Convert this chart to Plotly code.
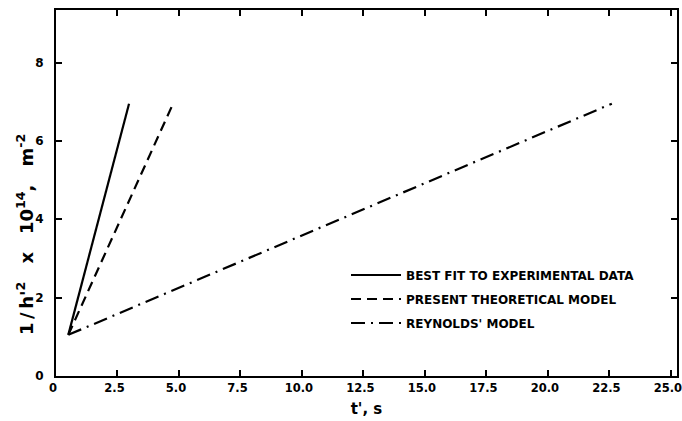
import plotly.graph_objects as go

# Data
series_names = ["BEST FIT TO EXPERIMENTAL DATA", "PRESENT THEORETICAL MODEL", "REYNOLDS' MODEL"]
t_best = [0.5, 2.97]
y_best = [1.05, 6.95]
t_theory = [0.5, 4.76]
y_theory = [1.05, 6.95]
t_reynolds = [0.5, 22.6]
y_reynolds = [1.05, 6.95]

x_tick_vals = [0, 2.5, 5.0, 7.5, 10.0, 12.5, 15.0, 17.5, 20.0, 22.5, 25.0]
x_tick_text = ["0", "2.5", "5.0", "7.5", "10.0", "12.5", "15.0", "17.5", "20.0", "22.5", "25.0"]
y_tick_vals = [0, 2, 4, 6, 8]
y_tick_text = ["0", "2", "4", "6", "8"]
y_title = "1\u2009/\u2009h'<sup>2</sup>\u2003x\u200310<sup>14</sup>,\u2003m<sup>-2</sup>"
x_title = "t', s"

FONT = "DejaVu Sans"

fig = go.Figure()
fig.add_trace(go.Scatter(x=t_best, y=y_best, mode="lines", name=series_names[0], legendgroup="a",
                         line=dict(color="black", width=2.2, dash="solid")))
fig.add_trace(go.Scatter(x=t_theory, y=y_theory, mode="lines", name=series_names[1], legendgroup="b",
                         line=dict(color="black", width=2.2, dash="10px,6px")))
fig.add_trace(go.Scatter(x=t_reynolds, y=y_reynolds, mode="lines", name=series_names[2], legendgroup="c",
                         line=dict(color="black", width=2.2, dash="14px,6px,2px,6px")))

fig.update_layout(
    width=682, height=421,
    paper_bgcolor="white", plot_bgcolor="white",
    margin=dict(l=56, r=5, t=10, b=45),
    font=dict(family=FONT, color="black", size=11),
    showlegend=True,
    legend=dict(x=(346 - 56) / 621, y=(376 - 299) / 366, xanchor="left", yanchor="middle",
                bgcolor="rgba(0,0,0,0)", borderwidth=0,
                font=dict(family=FONT, size=12, color="black", weight="bold"),
                tracegroupgap=5, itemwidth=50),
    annotations=[dict(text=y_title, xref="paper", yref="paper",
                      x=(25 - 56) / 621, y=(376 - 235) / 366, xanchor="center", yanchor="middle",
                      textangle=-90, showarrow=False,
                      font=dict(family=FONT, size=18, color="black", weight="bold"))],
)
fig.update_xaxes(
    range=[0, 25.25], tickvals=x_tick_vals, ticktext=x_tick_text,
    showline=True, linecolor="black", linewidth=2, mirror="ticks",
    ticks="inside", ticklen=6, tickwidth=1.5, tickcolor="black",
    showgrid=False, zeroline=False, automargin=False, ticklabeloverflow="allow",
    ticklabelshift=-3,
    tickfont=dict(family=FONT, size=11.5, color="black", weight="bold"),
    title=dict(text=x_title, font=dict(family=FONT, size=15, color="black", weight="bold"), standoff=10),
)
fig.update_yaxes(
    range=[0, 9.34], tickvals=y_tick_vals, ticktext=y_tick_text,
    showline=True, linecolor="black", linewidth=2, mirror="ticks",
    ticks="inside", ticklen=6, tickwidth=1.5, tickcolor="black",
    showgrid=False, zeroline=False, automargin=False, ticklabelstandoff=8,
    tickfont=dict(family=FONT, size=12, color="black", weight="bold"),
)

fig.write_html("out.html", config={"displayModeBar": False},
               post_script="document.body.style.margin='0';document.body.style.overflow='hidden';")
